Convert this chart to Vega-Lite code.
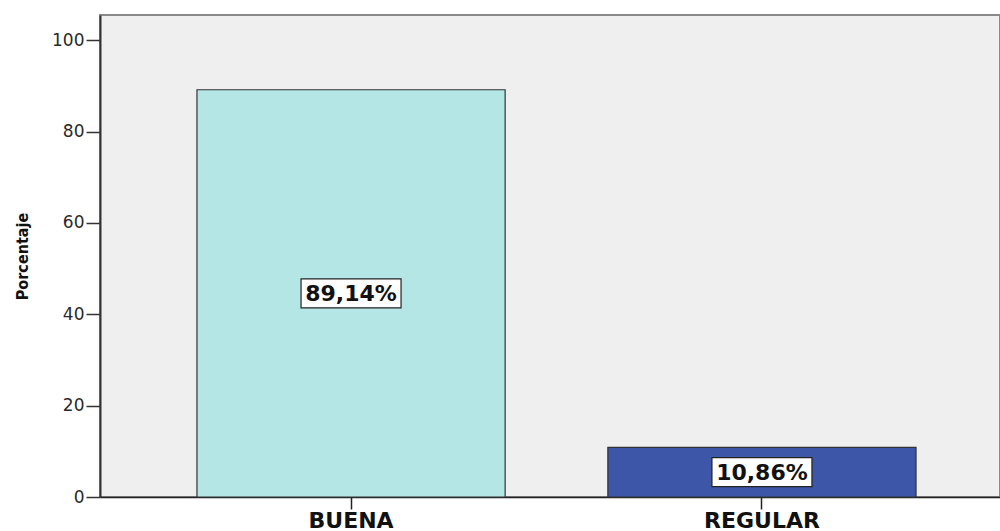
{
  "$schema": "https://vega.github.io/schema/vega-lite/v6.json",
  "width": 900,
  "height": 482,
  "autosize": {"type": "none"},
  "padding": {"left": 100, "top": 15, "right": 0, "bottom": 34},
  "background": "white",
  "config": {
    "view": {"fill": "#efefef", "stroke": "#8a8a8a", "strokeWidth": 2},
    "font": "DejaVu Sans"
  },
  "data": {
    "values": [
      {"calidad": "BUENA", "porcentaje": 89.14, "etiqueta": "89,14%"},
      {"calidad": "REGULAR", "porcentaje": 10.86, "etiqueta": "10,86%"}
    ]
  },
  "transform": [{"calculate": "datum.porcentaje / 2", "as": "medio"}],
  "encoding": {
    "x": {
      "field": "calidad",
      "type": "nominal",
      "sort": null,
      "scale": {"range": [0, 913], "paddingInner": 0.25, "paddingOuter": 0.236},
      "axis": {
        "title": null,
        "labelAngle": 0,
        "labelFont": "DejaVu Sans",
        "labelFontWeight": "bold",
        "labelFontSize": 22,
        "labelColor": "#111111",
        "labelPadding": 1,
        "tickSize": 12,
        "tickColor": "#222222",
        "tickWidth": 1.5,
        "domainColor": "#222222",
        "domainWidth": 1.5,
        "grid": false
      }
    }
  },
  "layer": [
    {
      "mark": {"type": "bar", "stroke": "#333333", "strokeWidth": 1.2},
      "encoding": {
        "y": {
          "field": "porcentaje",
          "type": "quantitative",
          "scale": {"domain": [0, 105.5], "nice": false, "zero": true},
          "axis": {
            "title": "Porcentaje",
            "titleFont": "DejaVu Sans Condensed, Liberation Sans, sans-serif",
            "titleFontWeight": "bold",
            "titleFontSize": 16,
            "titleColor": "#111111",
            "titlePadding": 21,
            "values": [0, 20, 40, 60, 80, 100],
            "labelFont": "DejaVu Sans",
            "labelFontSize": 17,
            "labelColor": "#2a2a2a",
            "labelPadding": 2,
            "tickSize": 14,
            "tickColor": "#333333",
            "tickWidth": 1.5,
            "domainColor": "#333333",
            "domainWidth": 2,
            "grid": false
          }
        },
        "color": {
          "field": "calidad",
          "type": "nominal",
          "scale": {"domain": ["BUENA", "REGULAR"], "range": ["#b4e6e6", "#3e56a8"]},
          "legend": null
        }
      }
    },
    {
      "mark": {
        "type": "point",
        "shape": "M-1,-0.29H1V0.29H-1Z",
        "size": 10000,
        "filled": true,
        "fill": "white",
        "stroke": "#222222",
        "strokeWidth": 1.2,
        "opacity": 1
      },
      "encoding": {
        "y": {"field": "medio", "type": "quantitative"}
      }
    },
    {
      "mark": {
        "type": "text",
        "font": "DejaVu Sans",
        "fontWeight": "bold",
        "fontSize": 22,
        "color": "#111111",
        "baseline": "middle",
        "align": "center",
        "dy": 1
      },
      "encoding": {
        "y": {"field": "medio", "type": "quantitative"},
        "text": {"field": "etiqueta"}
      }
    }
  ]
}
